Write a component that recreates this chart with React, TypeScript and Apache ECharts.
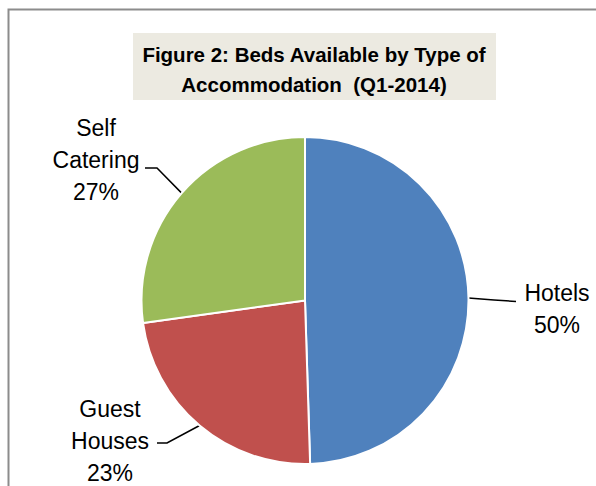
import React, { useEffect, useRef } from "react";
import * as echarts from "echarts";

const categories = ["Hotels", "Guest Houses", "Self Catering"];
const values = [49.5, 23.3, 27.2];
const colors = ["#4F81BD", "#C0504D", "#9BBB59"];
const titleLines = ["Figure 2: Beds Available by Type of", "Accommodation  (Q1-2014)"];

// label placement (layout only)
const labelPos = [
  { x: 557, y: 309, line: [[494, 300], [516, 301.5]] },
  { x: 110, y: 441, line: [[167, 443], [157, 443]] },
  { x: 96, y: 160, line: [[157, 168], [145, 168]] },
];

export default function App() {
  const ref = useRef<HTMLDivElement>(null);
  useEffect(() => {
    if (!ref.current) return;
    const chart = echarts.init(ref.current, null, { renderer: "svg" });
    chart.setOption({
      animation: false,
      backgroundColor: "#ffffff",
      graphic: [
        {
          type: "polyline",
          z: 0,
          shape: { points: [[8.5, 486], [8.5, 9.5], [596, 9.5]] },
          style: { stroke: "#8c8c8c", lineWidth: 2, fill: "none" },
        },
        {
          type: "rect",
          z: 0,
          shape: { x: 133, y: 33, width: 363, height: 67 },
          style: { fill: "#ECEAE1" },
        },
        {
          type: "text",
          z: 1,
          x: 314,
          y: 39,
          style: {
            text: titleLines.join("\n"),
            align: "center",
            verticalAlign: "top",
            fontFamily: "Liberation Sans",
            fontWeight: "bold",
            fontSize: 20.5,
            lineHeight: 30,
            fill: "#000000",
          },
        },
      ],
      series: [
        {
          type: "pie",
          center: [305, 300.5],
          radius: [0, 163.5],
          startAngle: 90,
          clockwise: true,
          avoidLabelOverlap: false,
          percentPrecision: 0,
          itemStyle: { borderColor: "#ffffff", borderWidth: 2 },
          label: {
            show: true,
            position: "outside",
            formatter: (p: any) => p.name.replace(" ", "\n") + "\n" + p.percent + "%",
            fontFamily: "Liberation Sans",
            fontSize: 23,
            lineHeight: 32,
            color: "#000000",
            alignTo: "none",
          },
          labelLine: {
            show: true,
            length: 10,
            length2: 10,
            lineStyle: { color: "#000000", width: 1.5 },
          },
          labelLayout: (params: any) => {
            const lp = labelPos[params.dataIndex];
            const start = params.labelLinePoints ? params.labelLinePoints[0] : lp.line[0];
            return {
              x: lp.x,
              y: lp.y,
              align: "center",
              verticalAlign: "middle",
              labelLinePoints: [start, lp.line[0], lp.line[1]],
            };
          },
          data: categories.map((c, i) => ({
            name: c,
            value: values[i],
            itemStyle: { color: colors[i] },
          })),
        },
      ],
    });
    return () => chart.dispose();
  }, []);
  return (
    <div
      ref={ref}
      style={{ position: "fixed", left: 0, top: 0, width: 596, height: 486 }}
    />
  );
}
